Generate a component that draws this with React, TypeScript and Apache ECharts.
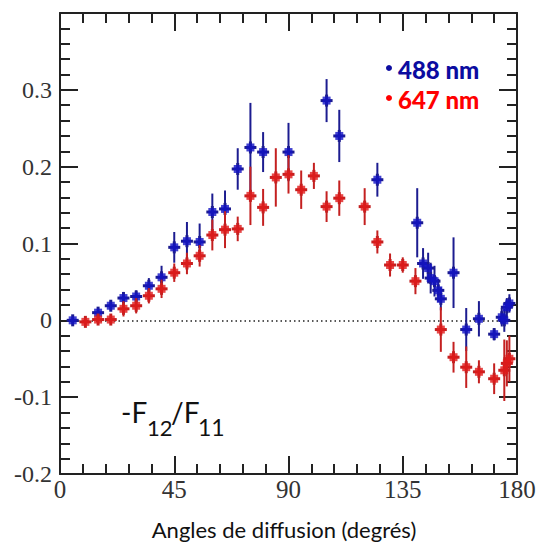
import React, { useEffect, useRef } from "react";
import * as echarts from "echarts";

// 488 nm series
const blueAngles = [5, 15, 20, 25, 30, 35, 40, 45, 50, 55, 60, 65, 70, 75, 80, 90, 105, 110, 125, 140.7, 143, 145, 146, 147.5, 149, 150, 155, 160, 165, 171, 174, 175, 176, 177];
const blueValues = [0.0, 0.01, 0.019, 0.029, 0.031, 0.045, 0.056, 0.095, 0.103, 0.102, 0.141, 0.145, 0.197, 0.225, 0.219, 0.219, 0.286, 0.24, 0.183, 0.127, 0.074, 0.068, 0.055, 0.051, 0.039, 0.028, 0.062, -0.012, 0.002, -0.018, 0.004, 0.0, 0.017, 0.022];
const blueErrors = [0.004, 0.006, 0.006, 0.008, 0.008, 0.01, 0.015, 0.02, 0.025, 0.024, 0.024, 0.024, 0.027, 0.058, 0.026, 0.038, 0.028, 0.034, 0.022, 0.045, 0.02, 0.02, 0.02, 0.02, 0.015, 0.015, 0.046, 0.028, 0.023, 0.008, 0.012, 0.015, 0.012, 0.012];

// 647 nm series
const redAngles = [10, 15, 20, 25, 30, 35, 40, 45, 50, 55, 60, 65, 70, 75, 80, 85, 90, 95, 100, 105, 110, 120, 125, 130, 135, 140, 150, 155, 160, 165, 171, 175, 176, 177];
const redValues = [-0.002, 0.001, 0.001, 0.015, 0.019, 0.032, 0.041, 0.062, 0.074, 0.084, 0.111, 0.118, 0.119, 0.162, 0.147, 0.186, 0.19, 0.17, 0.188, 0.148, 0.159, 0.148, 0.102, 0.072, 0.072, 0.051, -0.012, -0.048, -0.061, -0.067, -0.076, -0.065, -0.056, -0.05];
const redErrors = [0.004, 0.005, 0.005, 0.01, 0.01, 0.01, 0.012, 0.012, 0.014, 0.014, 0.02, 0.024, 0.016, 0.038, 0.024, 0.038, 0.025, 0.025, 0.017, 0.02, 0.023, 0.024, 0.015, 0.015, 0.01, 0.017, 0.029, 0.02, 0.027, 0.015, 0.02, 0.04, 0.03, 0.03];

const xTicks = [0, 45, 90, 135, 180];
const yTicks = [-0.2, -0.1, 0, 0.1, 0.2, 0.3, 0.4];
const yTickLabels = ["-0.2", "-0.1", "0", "0.1", "0.2", "0.3", ""];

const seriesNames = ["488 nm", "647 nm"];
const BLUE = "#1313c4";
const BLUE_BAR = "#1c1c90";
const RED = "#e01a1a";
const RED_BAR = "#c42020";

const AXIS = "#222";
const SERIF = "'Liberation Serif', 'DejaVu Serif', serif";
const SANS = "Lato, 'Open Sans', sans-serif";

function errRender(barColor: string) {
  return (params: any, api: any) => {
    const x = api.value(0);
    const y = api.value(1);
    const e = api.value(2);
    const top = api.coord([x, y + e]);
    const bot = api.coord([x, y - e]);
    const c = api.coord([x, y]);
    return {
      type: "group",
      children: [
        { type: "line", shape: { x1: top[0], y1: top[1], x2: bot[0], y2: bot[1] }, style: { stroke: barColor, lineWidth: 2 } },
        { type: "line", shape: { x1: c[0] - 6, y1: c[1], x2: c[0] + 6, y2: c[1] }, style: { stroke: barColor, lineWidth: 3 } },
        { type: "line", shape: { x1: c[0], y1: c[1] - 6, x2: c[0], y2: c[1] + 6 }, style: { stroke: barColor, lineWidth: 3 } },
      ],
    };
  };
}

export default function App() {
  const ref = useRef<HTMLDivElement>(null);
  useEffect(() => {
    if (!ref.current) return;
    const chart = echarts.init(ref.current, null, { renderer: "svg" });
    const xAxisBase = {
      type: "value",
      min: xTicks[0],
      max: xTicks[xTicks.length - 1],
      interval: 45,
      axisLine: { show: true, onZero: false, lineStyle: { color: AXIS, width: 2 } },
      axisTick: { show: true, inside: true, length: 18, lineStyle: { color: AXIS, width: 2 } },
      minorTick: { show: true, splitNumber: 5, length: 10, lineStyle: { color: AXIS, width: 2 } },
      splitLine: { show: false },
      minorSplitLine: { show: false },
    };
    const yAxisBase = {
      type: "value",
      min: -0.2,
      max: 0.4,
      interval: 0.1,
      axisLine: { show: true, onZero: false, lineStyle: { color: AXIS, width: 2 } },
      axisTick: { show: true, inside: true, length: 18, lineStyle: { color: AXIS, width: 2 } },
      minorTick: { show: true, splitNumber: 5, length: 10, lineStyle: { color: AXIS, width: 2 } },
      splitLine: { show: false },
      minorSplitLine: { show: false },
    };
    const yLabel = (v: number) => {
      const i = yTicks.findIndex((t) => Math.abs(t - v) < 1e-6);
      return i >= 0 ? yTickLabels[i] : "";
    };
    chart.setOption({
      animation: false,
      backgroundColor: "#fff",
      grid: { left: 60, right: 22, top: 13, bottom: 68 },
      xAxis: [
        {
          ...xAxisBase,
          position: "bottom",
          axisLabel: { show: true, margin: 3, color: "#333", fontFamily: SERIF, fontSize: 25 },
        },
        { ...xAxisBase, position: "top", axisLabel: { show: false } },
      ],
      yAxis: [
        {
          ...yAxisBase,
          position: "left",
          axisLabel: { show: true, margin: 8, color: "#333", fontFamily: SERIF, fontSize: 24, formatter: yLabel },
        },
        { ...yAxisBase, position: "right", axisLabel: { show: false } },
      ],
      series: [
        {
          type: "custom",
          name: seriesNames[0] + " err",
          renderItem: errRender(BLUE_BAR),
          encode: { x: 0, y: 1 },
          data: blueAngles.map((a, i) => [a, blueValues[i], blueErrors[i]]),
          z: 2,
          silent: true,
          markLine: {
            silent: true,
            symbol: ["none", "none"],
            label: { show: false },
            lineStyle: { color: "#222", width: 1.5, type: [1.5, 3] },
            data: [{ yAxis: 0 }],
            z: 1,
          },
        },
        {
          type: "scatter",
          name: seriesNames[0],
          symbol: "rect",
          symbolSize: 8,
          itemStyle: { color: BLUE },
          data: blueAngles.map((a, i) => [a, blueValues[i]]),
          z: 3,
        },
        {
          type: "custom",
          name: seriesNames[1] + " err",
          renderItem: errRender(RED_BAR),
          encode: { x: 0, y: 1 },
          data: redAngles.map((a, i) => [a, redValues[i], redErrors[i]]),
          z: 4,
          silent: true,
        },
        {
          type: "scatter",
          name: seriesNames[1],
          symbol: "rect",
          symbolSize: 8,
          itemStyle: { color: RED },
          data: redAngles.map((a, i) => [a, redValues[i]]),
          z: 5,
        },
      ],
      graphic: [
        { type: "circle", shape: { cx: 389, cy: 68, r: 3 }, style: { fill: "#0c0ca0" } },
        { type: "text", x: 398, y: 69, style: { text: seriesNames[0], fill: "#0c0ca0", font: `900 24px ${SANS}`, verticalAlign: "middle", align: "left" } },
        { type: "circle", shape: { cx: 389, cy: 98, r: 3 }, style: { fill: "#ff0000" } },
        { type: "text", x: 398, y: 99, style: { text: seriesNames[1], fill: "#ff0000", font: `900 24px ${SANS}`, verticalAlign: "middle", align: "left" } },
        { type: "text", x: 121, y: 412, style: { text: "-F", fill: "#111", font: `28px ${SANS}`, verticalAlign: "middle", align: "left" } },
        { type: "text", x: 147, y: 427, style: { text: "12", fill: "#111", font: `22px ${SANS}`, verticalAlign: "middle", align: "left" } },
        { type: "text", x: 171, y: 412, style: { text: "/F", fill: "#111", font: `28px ${SANS}`, verticalAlign: "middle", align: "left" } },
        { type: "text", x: 198, y: 427, style: { text: "11", fill: "#111", font: `23px ${SANS}`, verticalAlign: "middle", align: "left" } },
        { type: "text", x: 284, y: 529, style: { text: "Angles de diffusion (degrés)", fill: "#111", font: `22px ${SANS}`, verticalAlign: "middle", align: "center" } },
      ],
    });
    return () => chart.dispose();
  }, []);
  return (
    <div
      ref={ref}
      style={{ position: "absolute", left: 0, top: 0, width: 539, height: 542, background: "#fff" }}
    />
  );
}
